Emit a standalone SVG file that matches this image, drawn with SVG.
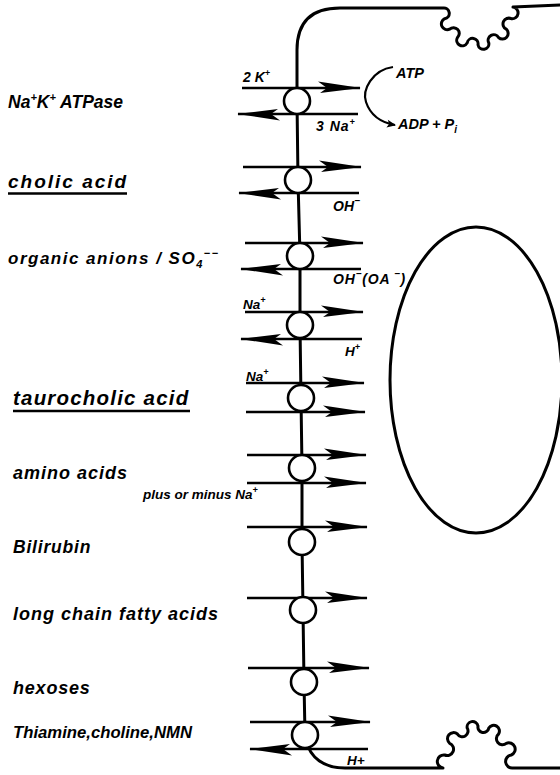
<svg xmlns="http://www.w3.org/2000/svg" width="560" height="775" viewBox="0 0 560 775">
  <style>
    .t { font-family: "Liberation Sans", Arial, sans-serif; font-weight: bold; font-style: italic; fill: #000; }
    .mem { fill: none; stroke: #000; stroke-width: 3; stroke-linecap: round; stroke-linejoin: round; }
    .arr { fill: none; stroke: #000; stroke-width: 2.5; marker-end: url(#head); }
    .carrier { fill: #fff; stroke: #000; stroke-width: 2.6; }
    .ul { stroke: #000; stroke-width: 2.4; }
  </style>
  <defs>
    <marker id="head" markerUnits="userSpaceOnUse" viewBox="-46 -8 48 16" markerWidth="48" markerHeight="16" refX="0" refY="0" orient="auto">
      <path d="M1,0 L-42,-6.5 L-33,0 L-40,5 Z" fill="#000"/>
    </marker>
    <marker id="small" markerUnits="userSpaceOnUse" viewBox="-10 -5 11 10" markerWidth="11" markerHeight="10" refX="0" refY="0" orient="auto">
      <path d="M1,0 L-8,-4 L-6,0 L-8,4 Z" fill="#000"/>
    </marker>
  </defs>

  <!-- cell outline: basolateral membrane, top and bottom borders -->
  <g id="membrane">
    <path class="mem" d="M297,101 L297,50 Q297,8 340,8 L443,8
      A1,1 0 0 1 444.7,18.7 A1,1 0 0 0 449.7,29.2 A1,1 0 0 1 457.4,37.6 A1,1 0 0 0 467.2,42.9 A1,1 0 0 1 478,44.8
      A1,1 0 0 0 488.8,42.9 A1,1 0 0 1 498.6,37.6 A1,1 0 0 0 506.3,29.2 A1,1 0 0 1 511.3,18.7 A1,1 0 0 0 513,7
      L560,5"/>
    <polyline class="mem" points="297,101 298,180 300,256 300,326 301,398 302,468 302,542 303,610 304,682 305,735"/>
    <path class="mem" d="M306,740 C310,758 324,768 345,768 L443,768
      A1,1 0 0 1 444.7,755 A1,1 0 0 0 449.7,743.3 A1,1 0 0 1 457.4,734 A1,1 0 0 0 467.2,728.1 A1,1 0 0 1 478,726
      A1,1 0 0 0 488.8,728.1 A1,1 0 0 1 498.6,734 A1,1 0 0 0 506.3,743.3 A1,1 0 0 1 511.3,755 A1,1 0 0 0 513,768
      L560,768"/>
  </g>

  <!-- nucleus -->
  <g id="nucleus">
    <ellipse cx="476" cy="380" rx="86" ry="153" fill="none" stroke="#000" stroke-width="3"/>
  </g>

  <!-- transport fluxes -->
  <g id="connectors">
    <line class="arr" x1="242" y1="88" x2="360" y2="88"/>
    <line class="arr" x1="358" y1="114" x2="238" y2="114"/>
    <path d="M393,67 C372,70 362,90 366,102 C370,114 378,122 395,125" fill="none" stroke="#000" stroke-width="2.2" marker-end="url(#small)"/>

    <line class="arr" x1="243" y1="167" x2="361" y2="167"/>
    <line class="arr" x1="359" y1="193" x2="239" y2="193"/>

    <line class="arr" x1="245" y1="243" x2="363" y2="243"/>
    <line class="arr" x1="361" y1="269" x2="241" y2="269"/>

    <line class="arr" x1="245" y1="312" x2="363" y2="312"/>
    <line class="arr" x1="362" y1="339" x2="241" y2="339"/>

    <line class="arr" x1="246" y1="383" x2="364" y2="383"/>
    <line class="arr" x1="246" y1="412" x2="365" y2="412"/>

    <line class="arr" x1="247" y1="455" x2="366" y2="455"/>
    <line class="arr" x1="247" y1="483" x2="366" y2="483"/>

    <line class="arr" x1="247" y1="527" x2="367" y2="527"/>
    <line class="arr" x1="247" y1="598" x2="367" y2="598"/>
    <line class="arr" x1="248" y1="668" x2="369" y2="668"/>

    <line class="arr" x1="250" y1="722" x2="370" y2="722"/>
    <line class="arr" x1="368" y1="749" x2="250" y2="749"/>
  </g>

  <!-- carriers -->
  <g id="na-k-atpase"><circle class="carrier" cx="297" cy="101" r="13"/></g>
  <g id="cholic-carrier"><circle class="carrier" cx="298" cy="180" r="13"/></g>
  <g id="anion-carrier"><circle class="carrier" cx="300" cy="256" r="13"/></g>
  <g id="na-h-exchanger"><circle class="carrier" cx="300" cy="325" r="13"/></g>
  <g id="taurocholic-carrier"><circle class="carrier" cx="301" cy="398" r="13"/></g>
  <g id="amino-carrier"><circle class="carrier" cx="302" cy="468" r="13"/></g>
  <g id="bilirubin-carrier"><circle class="carrier" cx="302" cy="542" r="13"/></g>
  <g id="fatty-acid-carrier"><circle class="carrier" cx="303" cy="610" r="13"/></g>
  <g id="hexose-carrier"><circle class="carrier" cx="304" cy="682" r="13"/></g>
  <g id="cation-carrier"><circle class="carrier" cx="305" cy="735" r="13"/></g>

  <!-- flux labels -->
  <g id="flux-labels">
    <text class="t" x="243" y="82" font-size="14">2 K<tspan font-size="9" dy="-6">+</tspan></text>
    <text class="t" x="316" y="131" font-size="14" letter-spacing="1">3 Na<tspan font-size="9" dy="-6">+</tspan></text>
    <text class="t" x="396" y="78" font-size="14.5">ATP</text>
    <text class="t" x="398" y="129" font-size="14.5">ADP + P<tspan font-size="10" dy="4">i</tspan></text>
    <text class="t" x="333" y="211" font-size="14">OH<tspan font-size="10" dy="-7">−</tspan></text>
    <text class="t" x="333" y="284" font-size="14" letter-spacing="0.8">OH<tspan font-size="10" dy="-7">−</tspan><tspan dy="7">(OA</tspan><tspan font-size="10" dy="-7"> −</tspan><tspan dy="7">)</tspan></text>
    <text class="t" x="243" y="309" font-size="13.5">Na<tspan font-size="9" dy="-6">+</tspan></text>
    <text class="t" x="345" y="356" font-size="13.5">H<tspan font-size="9" dy="-6">+</tspan></text>
    <text class="t" x="246" y="381" font-size="13.5">Na<tspan font-size="9" dy="-6">+</tspan></text>
    <text class="t" x="347" y="765" font-size="13.5">H+</text>
  </g>

  <!-- substrate labels -->
  <g id="substrate-labels">
    <text class="t" x="8" y="108" font-size="17.5">Na<tspan font-size="11" dy="-7">+</tspan><tspan dy="7">K</tspan><tspan font-size="11" dy="-7">+</tspan><tspan dy="7"> ATPase</tspan></text>
    <text class="t" x="8" y="188" font-size="19" letter-spacing="2">cholic acid</text>
    <line class="ul" x1="8" y1="193.5" x2="127" y2="193.5"/>
    <text class="t" x="8" y="264" font-size="17" letter-spacing="1.5">organic anions / SO<tspan font-size="11" dy="4">4</tspan><tspan font-size="11" dy="-11">−−</tspan></text>
    <text class="t" x="13" y="405" font-size="20.5" letter-spacing="1.2">taurocholic acid</text>
    <line class="ul" x1="13" y1="411" x2="190" y2="411"/>
    <text class="t" x="13" y="479" font-size="18" letter-spacing="1">amino acids</text>
    <text class="t" x="143" y="499" font-size="13.5">plus or minus Na<tspan font-size="9" dy="-6">+</tspan></text>
    <text class="t" x="13" y="553" font-size="17.5" letter-spacing="0.8">Bilirubin</text>
    <text class="t" x="13" y="620" font-size="18" letter-spacing="1">long chain fatty acids</text>
    <text class="t" x="13" y="694" font-size="18" letter-spacing="0.8">hexoses</text>
    <text class="t" x="13" y="738" font-size="16" textLength="179" lengthAdjust="spacingAndGlyphs">Thiamine,choline,NMN</text>
  </g>
</svg>
